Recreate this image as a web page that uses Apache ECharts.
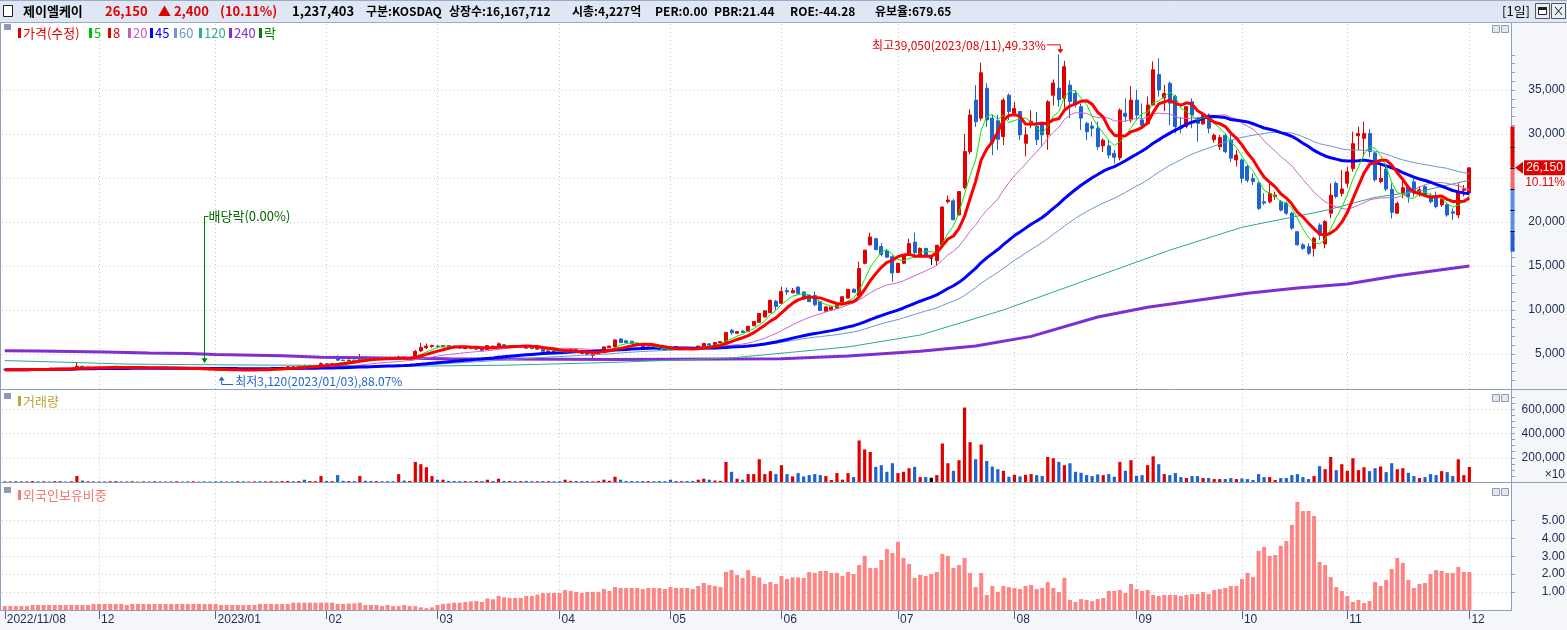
<!DOCTYPE html>
<html>
<head>
<meta charset="utf-8">
<title>제이엘케이 일봉</title>
<script src="https://cdn.jsdelivr.net/npm/echarts@6/dist/echarts.min.js"></script>
<style>
  html, body { margin: 0; padding: 0; background: #fff; }
  #chart { width: 1567px; height: 630px; }
</style>
</head>
<body>
<div id="chart"></div>
<script>
// 거래일: 2022/11/08 ~ 2023/12/01 (주말, 휴장일 제외)
var firstDay = '2022-11-08';
var lastDay = '2023-12-01';
var holidays = ['2022-12-30', '2023-01-23', '2023-01-24', '2023-03-01', '2023-05-01', '2023-05-05',
  '2023-05-29', '2023-06-06', '2023-08-15', '2023-09-28', '2023-09-29', '2023-10-02', '2023-10-03', '2023-10-09'];
var padSlots = 7; // 오른쪽 여백 칸

// 가격(수정) - 시가/고가/저가/종가
var opens = [
  3250,3200,3230,3200,3250,3230,3300,3280,3330,3300,
  3330,3330,3300,3320,3600,3480,3500,3450,3470,3430,
  3450,3450,3480,3440,3470,3420,3450,3400,3420,3380,
  3400,3350,3370,3330,3300,3320,3250,3220,3200,3180,
  3150,3180,3160,3200,3180,3220,3250,3230,3300,3350,
  3330,3480,3550,3520,3620,3580,3650,3700,3900,3850,
  4700,4300,4250,4300,4250,4650,4550,4500,4550,4500,
  4450,4400,4650,4550,4550,5350,5700,5850,5900,5800,
  5950,5900,5750,5600,5650,5550,5750,5500,5900,5800,
  6050,5850,5950,5850,5900,5700,5550,5550,5250,5350,
  5200,5150,5250,5500,5050,5150,4850,5050,5150,5700,
  5800,6700,6500,6450,6200,5950,5650,5850,5650,5600,
  5500,5850,5500,5700,5750,5600,5850,6150,5950,6250,
  6300,7700,7350,7600,7550,8200,8600,9200,9700,11000,
  10750,12200,11950,12600,12050,11700,11650,10950,9850,10000,
  10200,10900,11350,12350,11600,15300,17400,18100,17200,16700,
  16050,14250,15300,16250,17700,16250,17000,15900,15600,17400,
  22300,22400,20800,23900,28000,33850,31800,35200,31800,31500,
  29700,34400,32350,32550,28950,31300,30900,31200,29900,34400,
  35200,34050,35550,34600,33100,31200,30900,30650,28650,28650,
  27800,27300,32350,31600,33850,31600,31200,33300,36750,34100,
  35750,34250,30900,30850,33650,31800,31150,32150,29350,28550,
  29850,29300,27050,27050,26300,24950,24400,22300,22300,22900,
  22300,22100,21000,18900,17400,17200,17000,19650,17500,21000,
  24400,23250,24400,26050,29800,29500,30050,27850,24600,26000,
  23700,21000,23250,24000,24550,23250,24000,22900,22900,21950,
  21950,21150,20800,23600,23300
];
var highs = [
  3280,3250,3240,3270,3260,3320,3310,3350,3340,3370,
  3360,3340,3340,4000,3650,3530,3510,3490,3480,3480,
  3500,3500,3490,3490,3480,3470,3460,3440,3430,3420,
  3410,3390,3380,3340,3340,3330,3260,3240,3220,3200,
  3200,3190,3220,3210,3240,3270,3260,3310,3370,3360,
  3500,3580,3560,3620,3800,3670,3720,4050,3950,3950,
  4850,4350,4330,4320,5000,4700,4580,4580,4560,4520,
  4480,4800,4680,4650,5450,6250,6200,6050,6000,6000,
  6000,5950,5780,5730,5700,5780,5780,5980,5950,6300,
  6100,5980,6000,5950,5950,5720,5680,5580,5380,5370,
  5230,5380,5530,5520,5280,5180,5030,5330,5830,5930,
  6650,6800,6550,6480,6230,5980,5830,5880,5680,5630,
  5550,5900,5730,5730,5780,5930,6250,6180,6330,6430,
  7500,7850,7580,7750,8200,8750,9650,9950,11150,11150,
  12650,12550,12500,12700,12100,11750,12100,11000,10400,10400,
  10600,11550,12400,12450,15500,16850,18800,18200,17600,16950,
  16200,15350,16300,18100,18800,17100,17050,16100,17400,21750,
  23000,22600,23500,30000,32800,35550,38100,35750,32150,32150,
  34050,34600,33650,32600,30800,32700,32500,31400,33850,36200,
  39050,38300,36100,35000,33450,31400,31400,31400,29500,29300,
  28200,32900,34050,35450,35000,33450,34250,38250,38600,35600,
  35950,34450,31950,33150,34050,31950,32350,32350,30070,29900,
  30070,29880,28180,27230,26500,25500,24600,23260,24400,23450,
  22500,22310,21170,18900,17600,17580,18330,19850,20230,24400,
  24600,25900,26290,30250,30830,31400,30550,28000,26650,26650,
  24400,22300,24700,24200,24950,24010,24200,23260,23450,22900,
  22100,21550,24400,24200,26150
];
var lows = [
  3190,3180,3160,3180,3200,3220,3250,3260,3280,3290,
  3310,3280,3280,3300,3460,3450,3430,3430,3410,3420,
  3420,3440,3420,3430,3400,3410,3390,3390,3370,3370,
  3340,3340,3310,3290,3290,3270,3200,3180,3150,3120,
  3140,3140,3150,3160,3170,3210,3210,3220,3290,3310,
  3320,3470,3500,3510,3560,3570,3630,3690,3820,3830,
  4200,4200,4220,4220,4240,4530,4470,4480,4480,4430,
  4380,4380,4530,4520,4450,5200,5550,5700,5700,5780,
  5830,5680,5620,5580,5550,5530,5380,5480,5800,5780,
  5900,5830,5870,5830,5630,5570,5530,5280,5230,5080,
  5030,5130,5230,5180,5030,4930,4470,5030,5130,5680,
  5780,6250,6280,6180,5930,5680,5630,5580,5480,5430,
  5450,5480,5480,5630,5580,5580,5830,5980,5930,6230,
  6280,7200,7330,7430,7530,8180,8580,9150,9650,10000,
  10700,11700,11900,11800,11200,10900,10400,9900,9800,9950,
  10150,10850,11300,11950,11550,15200,17300,16800,16100,15950,
  13200,14200,15250,16200,16100,16200,16000,15100,14990,17350,
  22100,20200,20750,23700,27700,30800,31500,30800,27600,28180,
  28750,31600,32000,29300,27450,30650,28750,28650,28200,33250,
  33100,32900,31800,33000,30450,29300,29700,28200,27950,27250,
  26650,27000,31400,31300,31600,30850,31200,33200,34250,32600,
  31000,30070,30070,30650,30650,29120,31000,30070,29000,28180,
  27800,26800,26290,24400,24500,24200,21350,21930,22100,22500,
  21200,20800,19100,17300,16820,16250,16060,17950,17000,20420,
  22700,22900,23900,25700,28180,27420,27400,24600,24400,23500,
  20400,21000,22700,22200,22880,22880,22950,22120,21550,21700,
  20600,20230,20420,22900,23250
];
var closes = [
  3200,3230,3180,3250,3220,3300,3270,3330,3300,3350,
  3330,3300,3320,3600,3480,3500,3450,3470,3430,3460,
  3450,3480,3440,3470,3420,3450,3400,3420,3380,3400,
  3350,3370,3320,3300,3320,3280,3220,3200,3180,3150,
  3180,3160,3200,3180,3220,3250,3230,3300,3350,3330,
  3480,3550,3520,3600,3580,3650,3700,3900,3850,3900,
  4300,4250,4300,4250,4600,4550,4500,4550,4500,4450,
  4400,4650,4550,4600,5300,5750,5900,5950,5850,5950,
  5850,5700,5650,5700,5600,5750,5400,5950,5850,6150,
  5950,5950,5900,5900,5650,5600,5650,5300,5350,5100,
  5050,5350,5500,5200,5250,4950,5000,5300,5800,5900,
  6600,6300,6300,6200,5950,5700,5800,5600,5500,5450,
  5480,5500,5700,5650,5600,5900,6200,6000,6300,6400,
  7450,7400,7550,7450,8150,8700,9600,9900,11100,10400,
  12100,12050,12200,11850,11250,10950,10600,9950,10350,10350,
  10550,11500,12350,12000,14700,16800,18300,16850,16300,16000,
  14200,15300,16250,17550,16500,17000,16050,15900,17350,21700,
  22500,20250,23450,28000,32150,31400,36950,31600,28950,29400,
  33850,32550,32900,29900,29900,31450,29350,29900,33650,35800,
  33900,37650,33700,33400,31800,30250,30650,28550,29300,27600,
  27350,32700,32000,33850,32150,31000,33300,37300,35000,34600,
  33500,30850,30650,33100,32150,31200,32150,30650,29850,29600,
  28000,27250,27600,24950,24750,24600,21550,22150,23250,23050,
  21350,21000,19300,17400,17000,16450,18150,18500,20050,23050,
  22900,23750,25700,28900,30050,30050,28000,24800,24950,23750,
  21100,22100,23900,22900,23450,23650,23100,22300,21750,22600,
  20800,21000,23450,23750,26150
];

// 거래량 (x10)
var volumes = [
  6000,5000,7000,5000,6000,8000,5000,6000,4000,7000,
  5000,4000,6000,49000,12000,6000,5000,4000,5000,6000,
  5000,4000,5000,6000,4000,5000,4000,6000,5000,4000,
  5000,6000,4000,5000,6000,4000,5000,4000,5000,6000,
  4000,5000,6000,5000,4000,5000,6000,5000,7000,5000,
  8000,9000,6000,8000,19000,8000,7000,49000,9000,7000,
  57000,10000,8000,7000,49000,10000,8000,7000,6000,7000,
  6000,65000,12000,9000,166000,147000,122000,49000,19000,19000,
  9000,8000,7000,8000,6000,9000,8000,19000,8000,27000,
  9000,8000,7000,8000,9000,7000,6000,8000,7000,6000,
  7000,19000,9000,8000,7000,8000,6000,9000,19000,10000,
  43000,19000,9000,8000,7000,8000,7000,6000,8000,7000,
  19000,8000,7000,8000,9000,19000,27000,19000,12000,10000,
  166000,84000,27000,19000,65300,65300,188000,65300,89800,65300,
  139000,65300,46300,73500,46300,57100,65300,57100,49000,16300,
  73500,19000,73500,40800,343000,269000,248000,125000,139000,84400,
  155000,73500,84400,114000,125000,40800,40800,35000,57100,318000,
  155000,92500,180000,615000,329000,188000,310000,174000,128000,106000,
  92500,43500,59900,46300,59900,65300,57100,49000,207000,196000,
  166000,139000,155000,84400,76200,57100,49000,62600,57100,65300,
  43500,166000,92500,180000,51700,57100,139000,212000,147000,65300,
  57100,73500,40800,32700,49000,49000,32700,32700,24500,24500,
  24500,32700,24500,29000,24500,16300,65300,40800,40800,16300,
  32700,32700,57100,65300,40800,24500,49000,131000,106000,207000,
  98000,147000,92500,196000,98000,122000,89800,114000,128000,81600,
  155000,106000,114000,76200,49000,32700,40800,65300,57100,89800,
  81600,49000,188000,57100,123740
];

// 외국인보유비중 (%)
var foreignRatio = [
  0.22,0.22,0.22,0.22,0.22,0.28,0.28,0.28,0.28,0.28,
  0.28,0.28,0.28,0.28,0.28,0.28,0.34,0.34,0.34,0.34,
  0.34,0.34,0.28,0.34,0.34,0.34,0.34,0.34,0.34,0.34,
  0.34,0.34,0.34,0.34,0.34,0.34,0.34,0.34,0.34,0.28,
  0.28,0.28,0.28,0.28,0.28,0.28,0.34,0.34,0.34,0.34,
  0.34,0.34,0.41,0.41,0.41,0.41,0.41,0.41,0.41,0.41,
  0.34,0.34,0.37,0.37,0.41,0.28,0.28,0.28,0.22,0.28,
  0.22,0.22,0.28,0.22,0.22,0.15,0.10,0.15,0.28,0.34,
  0.37,0.41,0.41,0.45,0.48,0.50,0.45,0.65,0.60,0.78,
  0.71,0.67,0.67,0.67,0.78,0.78,0.86,0.95,0.95,0.95,
  0.95,1.12,1.06,1.01,0.95,1.01,1.01,1.01,1.17,1.06,
  1.28,1.23,1.23,1.23,1.23,1.17,1.23,1.23,1.23,1.17,
  1.28,1.23,1.23,1.23,1.17,1.34,1.51,1.40,1.34,1.28,
  2.12,2.23,1.96,1.79,2.23,1.90,1.82,1.45,1.56,1.45,
  1.90,1.73,1.82,1.82,1.79,2.12,2.07,2.18,2.18,2.07,
  2.07,1.90,2.12,2.01,2.51,3.02,2.35,2.35,2.79,3.41,
  3.18,3.80,2.91,2.57,1.79,1.96,1.90,2.01,2.12,3.13,
  3.02,2.35,2.51,2.91,2.07,1.28,2.07,0.84,1.34,1.01,
  1.34,1.28,1.23,1.17,1.34,1.40,1.17,1.23,1.56,1.23,
  1.01,1.79,0.56,0.45,0.61,0.56,0.50,0.61,0.67,1.06,
  1.06,1.12,0.95,1.45,1.17,1.06,1.12,0.84,0.78,0.84,
  0.84,0.84,0.78,0.84,0.89,0.89,1.01,0.89,1.12,1.17,
  1.23,1.34,1.34,1.73,2.07,1.84,3.30,3.52,3.02,3.07,
  3.58,3.85,4.75,6.03,5.53,5.53,5.25,2.68,2.51,1.84,
  1.28,1.06,0.78,0.45,0.56,0.39,0.50,1.56,1.34,1.68,
  2.29,2.91,2.63,1.68,1.23,1.45,1.51,2.01,2.23,2.18,
  2.07,2.07,2.40,2.12,2.12
];

// 120, 240일선은 차트 이전 구간의 종가가 필요해서 그림에서 읽은 값 [일자 index, 값]
var ma120Read = [[0,4250],[10,4080],[22,3850],[40,3760],[60,3700],[71,3600],[90,3720],[110,4050],
  [131,4550],[152,5800],[165,7150],[180,10000],[195,13400],[210,16800],[223,19400],[238,21300],
  [247,22800],[256,23600],[264,24750]];
var ma240Read = [[0,5380],[6,5330],[18,5220],[26,5110],[33,5040],[38,4930],[50,4810],[57,4620],
  [80,4470],[110,4380],[140,4450],[152,4770],[165,5300],[175,5900],[185,7000],[197,9200],
  [206,10300],[215,11100],[224,11900],[233,12500],[242,12950],[251,13900],[264,15000]];

// 축 눈금 (25,000 글자는 현재가 표시에 가려져 있음)
var priceGrid = [5000, 10000, 15000, 20000, 25000, 30000, 35000];
var priceLabels = [5000, 10000, 15000, 20000, 30000, 35000];
var volumeLabels = [200000, 400000, 600000];
var foreignLabels = [1, 2, 3, 4, 5];

// 상/하한가 막대 (전일종가 23,750 기준)
var limitUp = 30850, limitDown = 16630, prevClose = 23750, lastClose = 26150;
var limitMarks = [28500, 26130, 23750, 21380, 19000];

var hiIdx = 190, hiVal = 39050, loIdx = 39, loVal = 3120, exDivIdx = 36;

var UP = '#e00000', DOWN = '#1e64d0', NAVY = '#1c2a54', BORDER = '#8ca0bc';
var AXIS_FONT = '"Liberation Sans", Arial, sans-serif';
var KR_FONT = '"Noto Sans CJK KR", sans-serif';

function tradingDays(from, to) {
  var out = [];
  var d = new Date(from + 'T00:00:00Z');
  var end = new Date(to + 'T00:00:00Z');
  while (d <= end) {
    var s = d.toISOString().slice(0, 10);
    var wd = d.getUTCDay();
    if (wd !== 0 && wd !== 6 && holidays.indexOf(s) < 0) out.push(s);
    d.setUTCDate(d.getUTCDate() + 1);
  }
  return out;
}

var dates = tradingDays(firstDay, lastDay);
var cats = dates.slice();
for (var p = 0; p < padSlots; p++) cats.push('pad' + p);

var isMonthStart = {};
var monthStarts = [];
dates.forEach(function (d, i) {
  if (i === 0 || d.slice(5, 7) !== dates[i - 1].slice(5, 7)) {
    isMonthStart[i] = true;
    monthStarts.push(i);
  }
});
function monthLabel(i) {
  var d = dates[i];
  if (i === 0) return d.replace(/-/g, '/');
  if (d.slice(5, 7) === '01') return d.slice(0, 4) + '/01';
  return d.slice(5, 7);
}

function movingAverage(n) {
  return closes.map(function (c, i) {
    var s = 0, k = 0;
    for (var j = Math.max(0, i - n + 1); j <= i; j++) { s += closes[j]; k++; }
    return Math.round(s / k);
  });
}

function candleColor(i) {
  if (closes[i] > opens[i]) return UP;
  if (closes[i] < opens[i]) return DOWN;
  return '#000000';
}

function fmtNum(v) { return Number(v).toLocaleString('en-US'); }

function range(from, to, step) {
  var a = [];
  for (var v = from; v <= to; v += step) a.push(v);
  return a;
}

var candles = dates.map(function (d, i) { return [opens[i], closes[i], lows[i], highs[i]]; });

var gridMark = function (values) {
  return {
    silent: true, z: 1, symbol: ['none', 'none'], animation: false,
    label: { show: false }, emphasis: { disabled: true },
    lineStyle: { color: '#c9c9c9', type: [1, 3], width: 1 },
    data: values.map(function (v) { return { yAxis: v }; })
      .concat(monthStarts.slice(1).map(function (i) { return { xAxis: cats[i] }; }))
  };
};

function xAxisFor(g) {
  var ax = {
    type: 'category', gridIndex: g, data: cats, boundaryGap: true,
    axisLine: { show: false }, splitLine: { show: false },
    axisTick: { show: false }, axisLabel: { show: false }
  };
  if (g === 2) {
    ax.axisTick = {
      show: true, alignWithLabel: true, length: 9,
      interval: function (i) { return !!isMonthStart[i]; },
      lineStyle: { color: '#56627e' }
    };
    ax.axisLabel = {
      show: true, interval: function (i) { return !!isMonthStart[i]; },
      formatter: function (v, i) { return isMonthStart[i] ? monthLabel(i) : ''; },
      align: 'left', margin: 4, padding: [0, 0, 0, 2],
      color: NAVY, fontSize: 12, fontFamily: AXIS_FONT
    };
  }
  return ax;
}

function yAxisFor(g, min, max, labels, ticks, fmt) {
  return {
    type: 'value', gridIndex: g, position: 'right', min: min, max: max,
    axisLine: { show: true, lineStyle: { color: BORDER } },
    axisTick: { show: true, customValues: ticks, length: 4, lineStyle: { color: BORDER } },
    axisLabel: {
      customValues: labels, formatter: fmt, align: 'right', margin: 54,
      color: NAVY, fontSize: 12, fontFamily: AXIS_FONT
    },
    splitLine: { show: false }
  };
}

function maSeries(name, data, color, width) {
  return {
    type: 'line', name: name, data: data, xAxisIndex: 0, yAxisIndex: 0,
    symbol: 'none', showSymbol: false, silent: true, z: 3,
    lineStyle: { color: color, width: width }
  };
}

var option = {
  animation: false,
  backgroundColor: '#ffffff',
  grid: [
    { left: 2, top: 23, width: 1509, height: 366, outerBoundsMode: 'none' },
    { left: 2, top: 390, width: 1509, height: 92, outerBoundsMode: 'none' },
    { left: 2, top: 483, width: 1509, height: 127, outerBoundsMode: 'none' }
  ],
  xAxis: [xAxisFor(0), xAxisFor(1), xAxisFor(2)],
  yAxis: [
    yAxisFor(0, 1020, 42610, priceLabels, range(1000, 39000, 1000), fmtNum),
    yAxisFor(1, 0, 760000, volumeLabels, range(50000, 700000, 50000), fmtNum),
    yAxisFor(2, 0, 7.09, foreignLabels, foreignLabels, function (v) { return Number(v).toFixed(2); })
  ],
  series: [
    {
      type: 'candlestick', name: '가격(수정)', data: candles, xAxisIndex: 0, yAxisIndex: 0,
      barWidth: 3.5, silent: true, z: 2,
      itemStyle: {
        color: UP, color0: DOWN, borderColor: UP, borderColor0: DOWN,
        borderColorDoji: '#000000', borderWidth: 1
      },
      markLine: gridMark(priceGrid)
    },
    maSeries('240', ma240Read, '#7f2fd0', 3),
    maSeries('120', ma120Read, '#2fa894', 1),
    maSeries('60', movingAverage(60), '#6a98cc', 1),
    maSeries('20', movingAverage(20), '#cc66cc', 1),
    maSeries('45', movingAverage(45), '#0000ff', 3),
    maSeries('5', movingAverage(5), '#00ee00', 1),
    maSeries('8', movingAverage(8), '#ff0000', 3),
    {
      type: 'bar', name: '거래량', xAxisIndex: 1, yAxisIndex: 1, barWidth: 3.2, silent: true,
      data: volumes.map(function (v, i) { return { value: v, itemStyle: { color: candleColor(i) } }; }),
      markLine: gridMark(volumeLabels)
    },
    {
      type: 'bar', name: '외국인보유비중', xAxisIndex: 2, yAxisIndex: 2, barWidth: 4, silent: true,
      data: foreignRatio, itemStyle: { color: '#ff8484' },
      markLine: gridMark(foreignLabels)
    }
  ]
};

var chart = echarts.init(document.getElementById('chart'));
chart.setOption(option);

// ---- 장식, 주석 (위치는 축 변환으로 계산)
function px(grid, idx, val) { return chart.convertToPixel({ gridIndex: grid }, [idx, val]); }
function text(x, y, str, color, size, extra) {
  extra = extra || {};
  return {
    type: 'text', x: x, y: y, z: 20, silent: true,
    style: {
      text: str, fill: color, font: (extra.weight || 'normal') + ' ' + size + 'px ' + (extra.font || KR_FONT),
      textAlign: extra.align || 'left', textVerticalAlign: 'middle'
    }
  };
}
function rect(x, y, w, h, fill, stroke, z) {
  return { type: 'rect', z: z == null ? 15 : z, silent: true, shape: { x: x, y: y, width: w, height: h },
    style: { fill: fill, stroke: stroke || null, lineWidth: 1 } };
}
function line(x1, y1, x2, y2, color, z) {
  return { type: 'line', z: z == null ? 15 : z, silent: true, shape: { x1: x1, y1: y1, x2: x2, y2: y2 },
    style: { stroke: color, lineWidth: 1 } };
}
function poly(points, fill) {
  return { type: 'polygon', z: 20, silent: true, shape: { points: points }, style: { fill: fill } };
}

var g = [];
// 배경, 테두리
g.push(rect(0, 0, 1567, 22, '#dfe7f4', null, -1));
g.push(rect(1512, 23, 55, 607, '#f4f6f9', null, -1));
g.push(rect(0, 611, 1512, 19, '#f4f6f9', null, -1));
g.push(line(0, 22.5, 1567, 22.5, '#9aabc6'));
g.push(line(0, 0.5, 1567, 0.5, '#9aabc6'));
g.push(line(0, 389.5, 1567, 389.5, BORDER));
g.push(line(0, 482.5, 1567, 482.5, BORDER));
g.push(line(0, 610.5, 1512, 610.5, BORDER));
g.push(line(0.5, 22, 0.5, 611, BORDER));

// 상단 종목 정보
g.push(rect(3.5, 5.5, 9, 11, '#ffffff', '#222'));
g.push(text(23, 11, '제이엘케이', '#000', 13, { weight: 'bold' }));
g.push(text(105, 11, '26,150', UP, 13, { weight: 'bold' }));
g.push(text(158, 11, '▲ 2,400', UP, 13, { weight: 'bold' }));
g.push(text(220, 11, '(10.11%)', UP, 13, { weight: 'bold' }));
g.push(text(292, 11, '1,237,403', '#000', 13, { weight: 'bold' }));
[['구분:KOSDAQ', 366], ['상장수:16,167,712', 449], ['시총:4,227억', 572], ['PER:0.00', 655],
  ['PBR:21.44', 714], ['ROE:-44.28', 790], ['유보율:679.65', 875]].forEach(function (t) {
  g.push(text(t[1], 11, t[0], '#000', 12, { weight: 'bold' }));
});
g.push(text(1530, 11, '[1일]', '#000', 13, { align: 'right' }));
g.push(rect(1535.5, 3.5, 14, 15, '#e9eef6', '#555'));
g.push(rect(1538.5, 7.5, 8, 7, '#ffffff', '#222'));
g.push(rect(1538.5, 7.5, 8, 2, '#222', '#222'));
g.push(rect(1551.5, 3.5, 14, 15, '#e9eef6', '#555'));
g.push(line(1555, 7, 1562, 15, '#111'));
g.push(line(1562, 7, 1555, 15, '#111'));

// 패널 아이콘, 범례
[24, 393, 487].forEach(function (y) {
  g.push(rect(4, y, 7, 6, '#8c9cb8'));
  g.push(rect(1492.5, y + 1.5, 7, 7, '#e2e7ee', '#8c9cb8'));
  g.push(rect(1501.5, y + 1.5, 7, 7, '#e2e7ee', '#8c9cb8'));
});
[['가격(수정)', UP, 18], ['5', '#00c000', 89], ['8', UP, 108], ['20', '#c060c0', 128], ['45', '#0000ff', 150],
  ['60', '#6a98cc', 174], ['120', '#2fa894', 199], ['240', '#7f2fd0', 229], ['락', '#008000', 259]].forEach(function (it) {
  g.push(rect(it[2], 28, 3, 10, it[1]));
  g.push(text(it[2] + 5, 33, it[0], it[1], 13));
});
g.push(rect(18, 396, 3, 10, '#c0a830'));
g.push(text(23, 401, '거래량', '#bca53a', 13));
g.push(rect(18, 490, 3, 10, '#f07878'));
g.push(text(23, 495, '외국인보유비중', '#f07878', 13));
g.push(text(1565, 475, '×10', NAVY, 12, { align: 'right', font: AXIS_FONT }));

// 최고가 주석
var hi = px(0, hiIdx, hiVal);
g.push(text(hi[0] - 13, hi[1] - 9, '최고39,050(2023/08/11),49.33%', UP, 12, { align: 'right' }));
g.push({ type: 'polyline', z: 20, silent: true,
  shape: { points: [[hi[0] - 12, hi[1] - 9.5], [hi[0] + 1.5, hi[1] - 9.5], [hi[0] + 1.5, hi[1] - 4]] },
  style: { stroke: UP, lineWidth: 1, fill: null } });
g.push(poly([[hi[0] - 1.5, hi[1] - 5], [hi[0] + 4.5, hi[1] - 5], [hi[0] + 1.5, hi[1] - 1]], UP));

// 최저가 주석
var lo = px(0, loIdx, loVal);
g.push({ type: 'polyline', z: 20, silent: true,
  shape: { points: [[lo[0] + 0.5, lo[1] + 9], [lo[0] + 0.5, lo[1] + 14], [lo[0] + 12, lo[1] + 14]] },
  style: { stroke: DOWN, lineWidth: 1, fill: null } });
g.push(poly([[lo[0] - 2.5, lo[1] + 10], [lo[0] + 3.5, lo[1] + 10], [lo[0] + 0.5, lo[1] + 6]], DOWN));
g.push(text(lo[0] + 14, lo[1] + 11, '최저3,120(2023/01/03),88.07%', DOWN, 12));

// 배당락
var ex = px(0, exDivIdx, highs[exDivIdx]);
var exX = Math.round(ex[0]) + 0.5;
g.push(line(exX, 216, exX, ex[1] - 8, '#008000', 20));
g.push(line(exX, 216.5, exX + 4, 216.5, '#008000', 20));
g.push(poly([[exX - 3, ex[1] - 11], [exX + 3, ex[1] - 11], [exX, ex[1] - 6]], '#008000'));
g.push(text(exX + 4, 216, '배당락(0.00%)', '#006400', 13));

// 현재가 표시, 상하한가 막대
function py(v) { return px(0, 0, v)[1]; }
var segs = [[limitUp, lastClose, '#e00000'], [lastClose, prevClose, '#f06a6a'],
  [prevClose, 19000, '#5b8fe0'], [19000, limitDown, '#1e5fcf']];
segs.forEach(function (s) {
  g.push(rect(1510.5, py(s[0]), 4, py(s[1]) - py(s[0]), s[2]));
});
limitMarks.forEach(function (v) { g.push(rect(1510.5, Math.round(py(v)), 4, 1, '#000')); });
var pc = py(lastClose);
g.push(poly([[1515, pc], [1523, pc - 6], [1523, pc + 6]], UP));
g.push(rect(1524, pc - 7.5, 41, 15, UP));
g.push(text(1544.5, pc, '26,150', '#ffffff', 12, { align: 'center', font: AXIS_FONT }));
g.push(rect(1525, pc + 8, 41, 13, '#ffffff'));
g.push(text(1565, pc + 14.5, '10.11%', UP, 12, { align: 'right', font: AXIS_FONT }));

chart.setOption({ graphic: { elements: g } });
</script>
</body>
</html>
